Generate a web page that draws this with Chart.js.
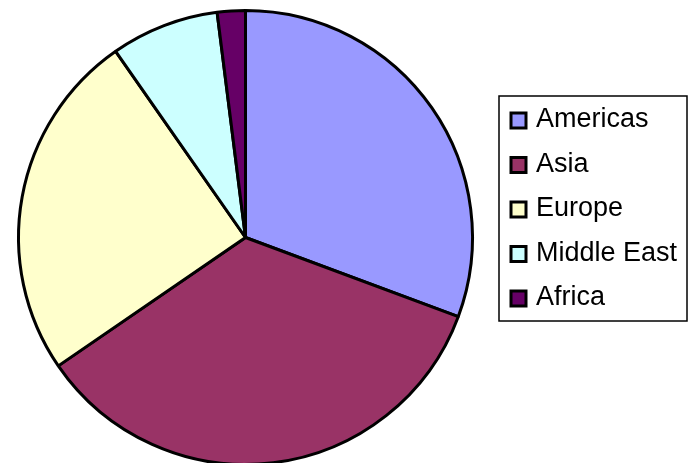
<!DOCTYPE html>
<html>
<head>
<meta charset="UTF-8">
<title>Regions</title>
<script src="https://cdn.jsdelivr.net/npm/chart.js"></script>
<style>
  html, body { margin: 0; padding: 0; background: #fff; overflow: hidden; }
  .chart { position: relative; width: 690px; height: 466px; }
</style>
</head>
<body>
<div class="chart">
  <canvas id="myChart"></canvas>
</div>

<script>
  const regioes = ['Americas', 'Asia', 'Europe', 'Middle East', 'Africa'];
  const valores = [30.7, 34.8, 24.9, 7.7, 2.0];
  const cores = ['#9999FF', '#993366', '#FFFFCC', '#CCFFFF', '#660066'];

  // legenda com caixa, desenhada a mao
  const legendaBox = {
    id: 'legendaBox',
    afterDraw(chart) {
      const ctx = chart.ctx;
      const labels = chart.data.labels;
      const bg = chart.data.datasets[0].backgroundColor;
      ctx.save();
      ctx.fillStyle = '#fff';
      ctx.fillRect(499, 96, 188, 225);
      ctx.strokeStyle = '#000';
      ctx.lineWidth = 1.5;
      ctx.strokeRect(499, 96, 188, 225);
      ctx.font = '27px "Liberation Sans", Arial, sans-serif';
      ctx.textBaseline = 'alphabetic';
      for (let i = 0; i < labels.length; i++) {
        const cy = 121 + i * 44.5;
        ctx.fillStyle = bg[i];
        ctx.fillRect(511, cy - 8, 15, 15);
        ctx.lineWidth = 3;
        ctx.strokeRect(511, cy - 8, 15, 15);
        ctx.fillStyle = '#000';
        ctx.fillText(labels[i], 536, cy + 6);
      }
      ctx.restore();
    }
  };

  const config = {
    type: 'pie',
    data: {
      labels: regioes,
      datasets: [{
        data: valores,
        backgroundColor: cores,
        borderColor: '#000',
        borderWidth: 3
      }]
    },
    options: {
      responsive: true,
      maintainAspectRatio: false,
      animation: false,
      layout: { padding: { left: 17, right: 216, top: 9, bottom: 0 } },
      plugins: {
        legend: { display: false },
        tooltip: { enabled: false }
      }
    },
    plugins: [legendaBox]
  };

  const myChart = new Chart(document.getElementById('myChart'), config);
</script>
</body>
</html>
